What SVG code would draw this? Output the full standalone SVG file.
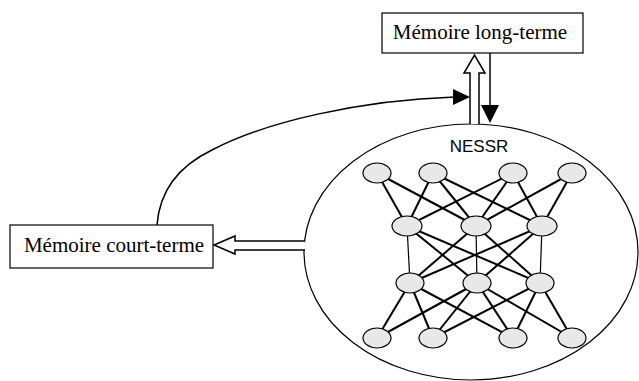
<svg xmlns="http://www.w3.org/2000/svg" width="639" height="381" viewBox="0 0 639 381">
<style>
.box{fill:#fff;stroke:#000;stroke-width:1.2}
.lbl{font-family:"Liberation Serif","Times New Roman",serif;font-size:21px;fill:#000;text-anchor:middle}
.nd{fill:#e8e8e8;stroke:#000;stroke-width:1.2}
.ed{stroke:#000;stroke-width:2;fill:none}
.vt{stroke:#000;stroke-width:1.2;fill:none}
.ln{stroke:#000;stroke-width:1.5;fill:none}
.hollow{fill:#fff;stroke:#000;stroke-width:1.5;stroke-linejoin:miter}
</style>
<rect width="639" height="381" fill="#fff"/>
<g id="nessr">
<ellipse cx="471" cy="252" rx="167" ry="128" fill="#fff" stroke="#000" stroke-width="1.2"/>
<text x="479" y="152" font-family="'Liberation Sans',Arial,sans-serif" font-size="17" text-anchor="middle">NESSR</text>
<g id="edges">
<line class="ed" x1="377" y1="173" x2="407" y2="226"/>
<line class="ed" x1="377" y1="173" x2="476" y2="226"/>
<line class="ed" x1="433" y1="173" x2="407" y2="226"/>
<line class="ed" x1="433" y1="173" x2="476" y2="226"/>
<line class="ed" x1="433" y1="173" x2="542" y2="226"/>
<line class="ed" x1="513" y1="173" x2="407" y2="226"/>
<line class="ed" x1="513" y1="173" x2="476" y2="226"/>
<line class="ed" x1="513" y1="173" x2="542" y2="226"/>
<line class="ed" x1="572" y1="173" x2="476" y2="226"/>
<line class="ed" x1="572" y1="173" x2="542" y2="226"/>
<line class="vt" x1="407" y1="226" x2="410" y2="283"/>
<line class="ed" x1="407" y1="226" x2="477" y2="283"/>
<line class="ed" x1="407" y1="226" x2="540" y2="283"/>
<line class="ed" x1="476" y1="226" x2="410" y2="283"/>
<line class="vt" x1="476" y1="226" x2="477" y2="283"/>
<line class="ed" x1="476" y1="226" x2="540" y2="283"/>
<line class="ed" x1="542" y1="226" x2="410" y2="283"/>
<line class="ed" x1="542" y1="226" x2="477" y2="283"/>
<line class="vt" x1="542" y1="226" x2="540" y2="283"/>
<line class="ed" x1="410" y1="283" x2="377" y2="338"/>
<line class="ed" x1="410" y1="283" x2="433" y2="338"/>
<line class="ed" x1="410" y1="283" x2="513" y2="338"/>
<line class="ed" x1="477" y1="283" x2="377" y2="338"/>
<line class="ed" x1="477" y1="283" x2="433" y2="338"/>
<line class="ed" x1="477" y1="283" x2="513" y2="338"/>
<line class="ed" x1="477" y1="283" x2="572" y2="338"/>
<line class="ed" x1="540" y1="283" x2="433" y2="338"/>
<line class="ed" x1="540" y1="283" x2="513" y2="338"/>
<line class="ed" x1="540" y1="283" x2="572" y2="338"/>
</g>
<g id="neurons">
<ellipse class="nd" cx="377" cy="173" rx="14" ry="10"/>
<ellipse class="nd" cx="433" cy="173" rx="14" ry="10"/>
<ellipse class="nd" cx="513" cy="173" rx="14" ry="10"/>
<ellipse class="nd" cx="572" cy="173" rx="14" ry="10"/>
<ellipse class="nd" cx="407" cy="226" rx="15" ry="10"/>
<ellipse class="nd" cx="476" cy="226" rx="15" ry="10"/>
<ellipse class="nd" cx="542" cy="226" rx="15" ry="10"/>
<ellipse class="nd" cx="410" cy="283" rx="14" ry="10"/>
<ellipse class="nd" cx="477" cy="283" rx="14" ry="10"/>
<ellipse class="nd" cx="540" cy="283" rx="14" ry="10"/>
<ellipse class="nd" cx="377" cy="338" rx="14" ry="10"/>
<ellipse class="nd" cx="433" cy="338" rx="14" ry="10"/>
<ellipse class="nd" cx="513" cy="338" rx="14" ry="10"/>
<ellipse class="nd" cx="572" cy="338" rx="14" ry="10"/>
</g>
</g>
<g id="long-terme">
<rect class="box" x="382" y="13" width="201" height="40"/>
<text class="lbl" x="480" y="39">Mémoire long-terme</text>
</g>
<g id="court-terme">
<rect class="box" x="10" y="225" width="203" height="43"/>
<text class="lbl" x="114" y="252">Mémoire court-terme</text>
</g>
<g id="connectors">
<path class="hollow" d="M470,124 L470,73 L464,73 L474.5,55 L485,73 L479,73 L479,124"/>
<line class="ln" x1="490" y1="53" x2="490" y2="106"/>
<polygon points="481,105 499,105 490,123" fill="#000"/>
<path class="hollow" d="M305,241 L235,241 L235,236 L214,245 L235,254 L235,250 L305,250"/>
<path class="ln" d="M157,225 C160,185 185,163 212,150 C265,122 360,100 455,97"/>
<polygon points="453,89 470,97 453,105" fill="#000"/>
</g>
</svg>
